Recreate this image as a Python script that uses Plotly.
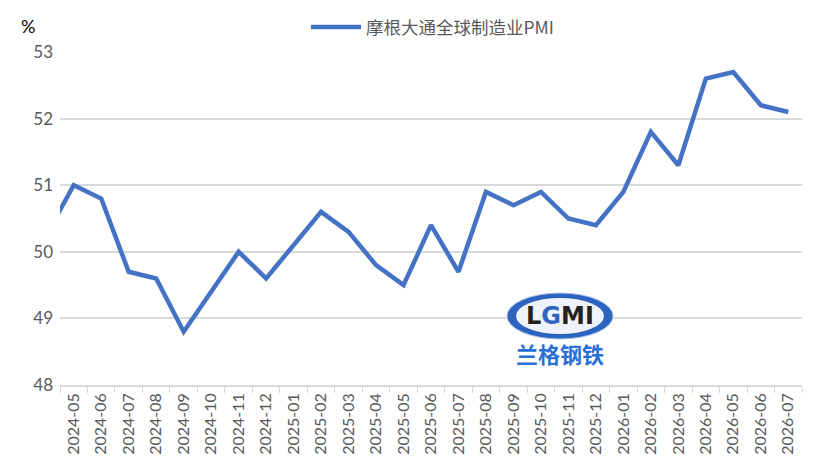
import plotly.graph_objects as go

months = ["2024-04", "2024-05", "2024-06", "2024-07", "2024-08", "2024-09", "2024-10",
          "2024-11", "2024-12", "2025-01", "2025-02", "2025-03", "2025-04",
          "2025-05", "2025-06", "2025-07", "2025-08", "2025-09", "2025-10",
          "2025-11", "2025-12", "2026-01", "2026-02", "2026-03", "2026-04",
          "2026-05", "2026-06", "2026-07"]
pmi = [50.25, 51.0, 50.8, 49.7, 49.6, 48.8, 49.4, 50.0, 49.6, 50.1, 50.6, 50.3, 49.8,
       49.5, 50.4, 49.7, 50.9, 50.7, 50.9, 50.5, 50.4, 50.9, 51.8, 51.3, 52.6,
       52.7, 52.2, 52.1]
series_name = "摩根大通全球制造业PMI"
y_ticks = [48, 49, 50, 51, 52, 53]

W, H = 819, 465

fig = go.Figure()
fig.add_trace(go.Scatter(
    x=months, y=pmi, mode="lines", name=series_name,
    line=dict(color="#4472c4", width=4.5),
    cliponaxis=True,
))

fig.update_layout(
    width=W, height=H,
    margin=dict(l=52, r=25, t=44, b=88, autoexpand=False),
    paper_bgcolor="white", plot_bgcolor="white",
    showlegend=True,
    legend=dict(orientation="h", x=0.502, xanchor="center",
                y=(H - 19) / H, yanchor="middle", yref="container",
                itemwidth=50,
                font=dict(family="Noto Sans CJK SC", size=17.5, color="#595959"),
                bgcolor="rgba(0,0,0,0)"),
    xaxis=dict(
        type="category", range=[0.5, len(months) - 0.5],
        tickangle=-90, tickson="boundaries",
        ticks="outside", ticklen=6, tickcolor="#d9d9d9",
        showline=True, linecolor="#d9d9d9", linewidth=1.5,
        showgrid=False, automargin=False,
        tickfont=dict(family="Lato", size=16, color="#595959"),
    ),
    yaxis=dict(
        range=[48, 53], tickvals=y_ticks,
        showgrid=True, gridcolor="#d9d9d9", gridwidth=1.5,
        zeroline=False, showline=False, automargin=False,
        tickfont=dict(family="Lato", size=17, color="#595959"),
        ticklabelstandoff=6,
    ),
)

fig.add_annotation(text="%", xref="paper", yref="paper", x=-0.043, y=1.078,
                   xanchor="center", yanchor="middle", showarrow=False,
                   font=dict(family="Lato", size=18, color="#000000"))

# watermark logo
def px(xp):
    return (xp - 60) / 742

def py(yp):
    return (385 - yp) / 333

fig.add_shape(type="circle", xref="paper", yref="paper",
              x0=px(507), x1=px(613), y0=py(339), y1=py(293),
              fillcolor="#2f63c0", line=dict(color="#a9c1ea", width=1), layer="above")
fig.add_shape(type="circle", xref="paper", yref="paper",
              x0=px(516), x1=px(604), y0=py(334), y1=py(298),
              fillcolor="#eef3fb", line=dict(width=0), layer="above")
fig.add_annotation(text="<b>L<span style='color:#2f63c0'>G</span>MI</b>",
                   xref="paper", yref="paper", x=px(560), y=py(316),
                   showarrow=False, xanchor="center", yanchor="middle",
                   font=dict(family="DejaVu Sans", size=24, color="#222222"))
fig.add_annotation(text="<b>兰格钢铁</b>", xref="paper", yref="paper",
                   x=px(560), y=py(353), showarrow=False,
                   xanchor="center", yanchor="middle",
                   font=dict(family="Noto Sans CJK SC", size=22, color="#2a6fd6"))

fig.write_html("out.html")
